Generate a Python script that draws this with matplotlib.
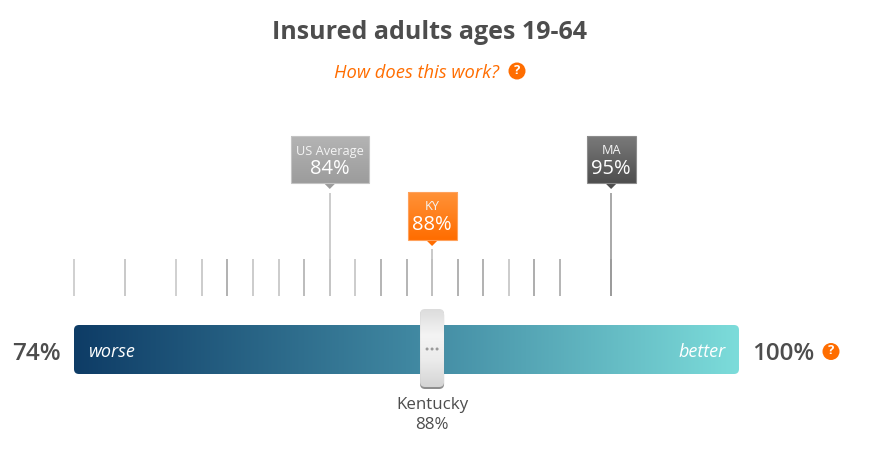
import matplotlib
matplotlib.use("Agg")
import matplotlib.pyplot as plt
import numpy as np
from matplotlib.colors import LinearSegmentedColormap
from matplotlib.patches import Ellipse, FancyBboxPatch, Polygon, Rectangle

plt.rcParams["font.family"] = ["Open Sans", "DejaVu Sans"]

title = "Insured adults ages 19-64"
subtitle = "How does this work?"
scale_min = 74
scale_max = 100
state_values = [74, 76, 78, 79, 80, 81, 82, 83, 84, 85, 86, 87, 88, 89, 90, 91, 92, 93, 95]
callout_labels = ["US Average", "KY", "MA"]
callout_values = [84, 88, 95]
selected_name = "Kentucky"
selected_value = 88

# tick shade per state, some are a bit darker in the original
tick_shades = ["#c8c8c8", "#c0c0c0", "#c8c8c8", "#c4c4c4", "#a4a4a4", "#c4c4c4", "#c4c4c4",
               "#b0b0b0", "#c4c4c4", "#c4c4c4", "#a8a8a8", "#a8a8a8", "#b8b8b8", "#a4a4a4",
               "#a4a4a4", "#c4c4c4", "#a0a0a0", "#a8a8a8", "#9a9a9a"]

PX = (739 - 74) / (scale_max - scale_min)  # pixels per percent point
ORANGE = "#ff6d00"
TEXT = "#4d4d4d"


def w(pixels):
    return pixels / PX


def px_x(pixel):
    return scale_min + (pixel - 74) / PX


def gradient(ax, colors, extent, clip, vertical=True):
    cmap = LinearSegmentedColormap.from_list("g", colors)
    grad = np.linspace(0, 1, 256)
    grad = grad.reshape(-1, 1) if vertical else grad.reshape(1, -1)
    im = ax.imshow(grad, cmap=cmap, extent=extent, aspect="auto", origin="upper",
                   interpolation="bilinear", zorder=clip.get_zorder())
    im.set_clip_path(clip)


def rounded(ax, x, y, width, height, radius, **kw):
    box = FancyBboxPatch((x, y), w(width), height,
                         boxstyle=f"round,pad=0,rounding_size={w(radius)}",
                         mutation_aspect=PX, **kw)
    ax.add_patch(box)
    return box


def help_icon(ax, cx, cy, r=8.5):
    ax.add_patch(Ellipse((cx, cy), w(2 * r), 2 * r, color=ORANGE, lw=0, zorder=5))
    ax.text(cx, cy - 0.5, "?", color="white", fontsize=9.5, fontweight="bold",
            ha="center", va="center", zorder=6)


def callout(ax, label, value, top, height, colors, edge, line_color, line_top):
    width = 78 if label == "US Average" else 49
    left = value - w(width / 2)
    box = Rectangle((left, top), w(width), height, fc="none", ec="none", zorder=3)
    ax.add_patch(box)
    gradient(ax, colors, (left, left + w(width), top + height, top), box)
    ax.add_patch(Rectangle((left, top), w(width), height, fc="none", ec=edge, lw=0.8, zorder=4))
    tip = [(value - w(6), top + height), (value + w(6), top + height), (value, top + height + 6)]
    ax.add_patch(Polygon(tip, fc=colors[-1], ec="none", zorder=3))
    ax.text(value, top + 15, label, color="#f4f4f4", fontsize=9.2, ha="center", va="center", zorder=5)
    ax.text(value, top + 32.5, f"{value}%", color="white", fontsize=14.5, ha="center", va="center", zorder=5)
    ax.plot([value, value], [line_top, 296], color=line_color, lw=1.2, zorder=2, solid_capstyle="butt")


fig = plt.figure(figsize=(8.72, 4.53), dpi=100, facecolor="white")
ax = fig.add_axes([0, 0, 1, 1])
ax.axis("off")

# little state ticks above the bar
for value, shade in zip(state_values, tick_shades):
    ax.plot([value, value], [259, 296], color=shade, lw=1.2, solid_capstyle="butt", zorder=1)

callout(ax, callout_labels[0], callout_values[0], 136, 47, ["#b4b4b4", "#9c9c9c"], "#c4c4c4", "#c4c4c4", 193)
callout(ax, callout_labels[1], callout_values[1], 192, 48, ["#ff9238", "#ff6d00"], "#ffa25c", "#c0c0c0", 249)
callout(ax, callout_labels[2], callout_values[2], 136, 47, ["#7a7a7a", "#4e4e4e"], "#8c8c8c", "#9a9a9a", 193)

# main gradient bar
bar = rounded(ax, scale_min, 325, 665, 49, 5, fc="none", ec="none", zorder=2)
gradient(ax, ["#0e3c66", "#3f86a0", "#7cdcda"], (scale_min, scale_max, 374, 325), bar, vertical=False)
ax.text(scale_min + w(15), 352, "worse", color="white", fontsize=13, style="italic", va="center", zorder=3)
ax.text(scale_max - w(13), 352, "better", color="white", fontsize=13, style="italic", va="center", ha="right", zorder=3)

# slider handle
x0 = selected_value - w(12)
rounded(ax, x0, 310, 24, 79, 5, fc="#8e8e8e", ec="none", zorder=4)
handle = rounded(ax, x0, 309, 24, 78, 5, fc="none", ec="none", zorder=5)
gradient(ax, ["#dcdcdc", "#f4f4f4", "#ebebeb", "#d4d4d4"], (x0, x0 + w(24), 387, 309), handle)
for off in (-5, 0, 5):
    ax.add_patch(Ellipse((selected_value + w(off), 349), w(3), 3, color="#9a9a9a", lw=0, zorder=6))

ax.text(selected_value, 405, selected_name, color=TEXT, fontsize=12.2, ha="center", va="center")
ax.text(selected_value, 425, f"{selected_value}%", color=TEXT, fontsize=12.2, ha="center", va="center")

ax.text(scale_min - w(13), 354, f"{scale_min}%", color=TEXT, fontsize=17.5, fontweight="semibold", ha="right", va="center")
ax.text(scale_max + w(13), 354, f"{scale_max}%", color=TEXT, fontsize=17.5, fontweight="semibold", ha="left", va="center")
help_icon(ax, scale_max + w(92), 351.5)

ax.text(px_x(430), 32.5, title, color=TEXT, fontsize=18, fontweight="bold", ha="center", va="center")
ax.text(px_x(417), 73.5, subtitle, color=ORANGE, fontsize=13.2, style="italic", ha="center", va="center")
help_icon(ax, px_x(517), 71)

ax.set_xlim(scale_min - 74 / PX, scale_min + (872 - 74) / PX)
ax.set_ylim(453, 0)

fig.savefig("out.png", dpi=100, facecolor="white")
